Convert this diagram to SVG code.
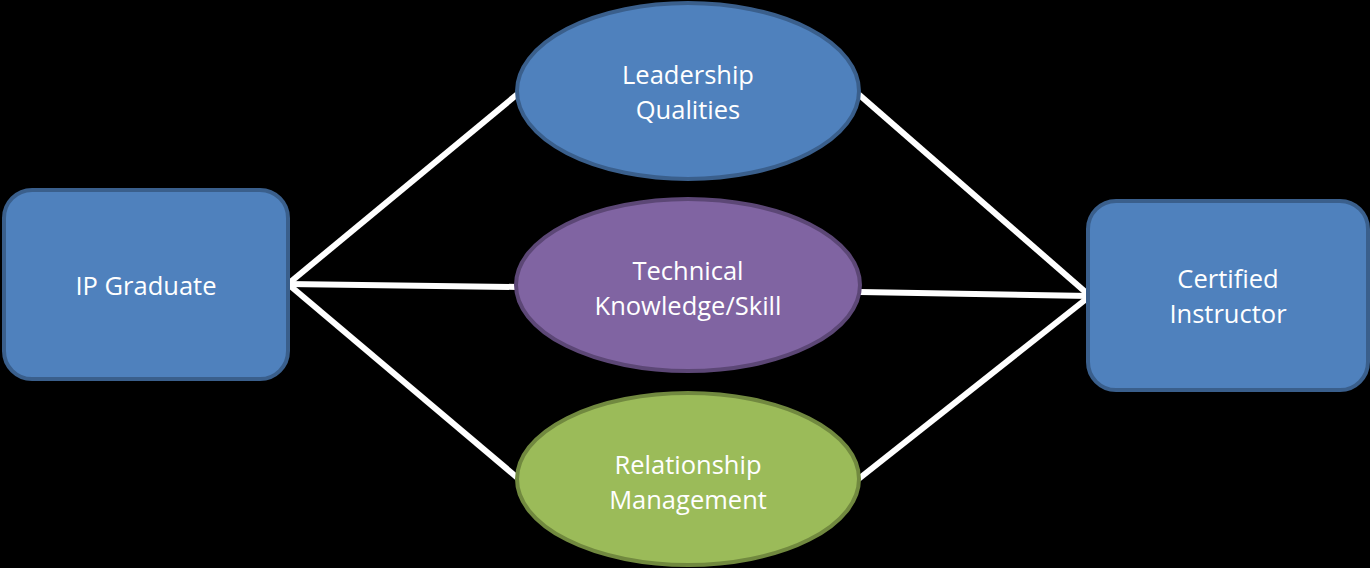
<svg xmlns="http://www.w3.org/2000/svg" width="1370" height="568" viewBox="0 0 1370 568">
  <style>
    .link { stroke: #FFFFFF; stroke-width: 6; fill: none; stroke-linecap: butt; }
    .blue { fill: #4F81BD; stroke: #3A5F8C; stroke-width: 4; }
    .purple { fill: #8064A2; stroke: #5C4776; stroke-width: 4; }
    .green { fill: #9BBB59; stroke: #71893F; stroke-width: 4; }
    .label { font-family: "Open Sans", "Noto Sans", sans-serif; font-size: 25.5px; fill: #FFFFFF; text-anchor: middle; }
  </style>
  <rect width="1370" height="568" fill="#000000"/>

  <g id="connectors">
    <line class="link" x1="288" y1="284" x2="520" y2="92"/>
    <line class="link" x1="288" y1="284" x2="518" y2="287"/>
    <line class="link" x1="288" y1="284" x2="520" y2="480"/>
    <line class="link" x1="856" y1="92" x2="1090" y2="296"/>
    <line class="link" x1="860" y1="292" x2="1090" y2="296"/>
    <line class="link" x1="856" y1="481" x2="1090" y2="296"/>
  </g>

  <g id="ip-graduate">
    <rect class="blue" x="4" y="190" width="284" height="189" rx="28" ry="28"/>
    <text class="label" x="146" y="295">IP Graduate</text>
  </g>

  <g id="leadership-qualities">
    <ellipse class="blue" cx="688" cy="91" rx="171" ry="88"/>
    <text class="label" x="688" y="84">Leadership</text>
    <text class="label" x="688" y="119">Qualities</text>
  </g>

  <g id="technical-knowledge">
    <ellipse class="purple" cx="688" cy="285" rx="172" ry="86"/>
    <text class="label" x="688" y="280">Technical</text>
    <text class="label" x="688" y="315">Knowledge/Skill</text>
  </g>

  <g id="relationship-management">
    <ellipse class="green" cx="688" cy="479" rx="171" ry="86"/>
    <text class="label" x="688" y="474">Relationship</text>
    <text class="label" x="688" y="509">Management</text>
  </g>

  <g id="certified-instructor">
    <rect class="blue" x="1088" y="201" width="280" height="189" rx="28" ry="28"/>
    <text class="label" x="1228" y="288">Certified</text>
    <text class="label" x="1228" y="323">Instructor</text>
  </g>
</svg>
